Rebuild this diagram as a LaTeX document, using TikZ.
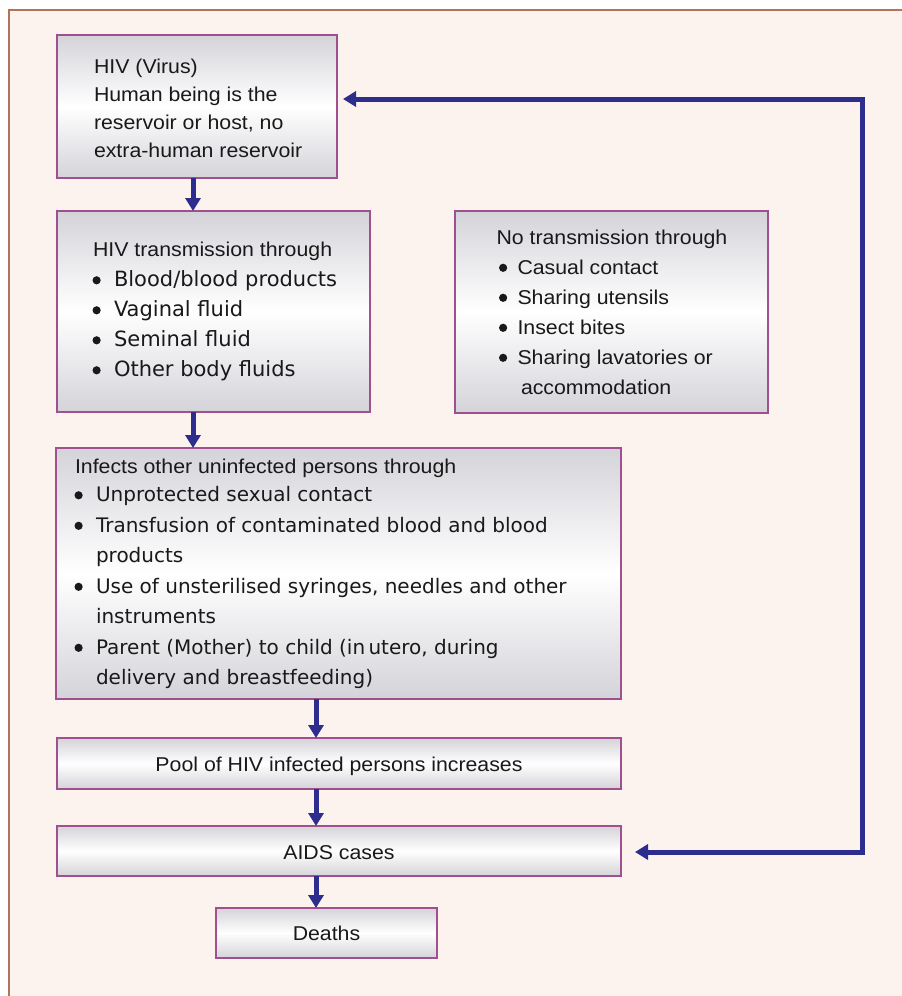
\documentclass[tikz,border=0pt]{standalone}
\usepackage{fontspec}
\setmainfont{Liberation Sans}[FakeStretch=1.065]
\newfontfamily\bulfont{DejaVu Sans}
\usetikzlibrary{arrows.meta}
\definecolor{bgc}{HTML}{FDF3EE}
\definecolor{framec}{HTML}{B3735B}
\definecolor{boxline}{HTML}{A0508E}
\definecolor{boxgray}{HTML}{D4D3D9}
\definecolor{arrblue}{HTML}{2C2D8C}
\newcommand{\blt}{\tikz[baseline=0pt]\fill[black!90] (4.2pt,6.2pt) circle[radius=4.1pt];}
\newcommand{\dbul}[1]{\makebox[#1][l]{\hspace{-0.5pt}\blt}}
\newcommand{\abul}{\hspace{3.5pt}\makebox[17.5pt][l]{\hspace{-1pt}\blt}}
\begin{document}
\begin{tikzpicture}[x=1pt,y=-1pt,
  box/.style={draw=boxline, line width=2.7pt, top color=boxgray, bottom color=boxgray,
    middle color=white, anchor=north west, inner sep=0pt, outer sep=0pt},
  txt/.style={anchor=base west, inner sep=0pt, outer sep=0pt, text=black!90},
  ctxt/.style={anchor=base, inner sep=0pt, outer sep=0pt, text=black!90,
    font=\fontsize{20}{24}\selectfont},
  arr/.style={draw=arrblue, line width=5pt,
    -{Triangle[length=13pt,width=15pt]}},
  arrboth/.style={draw=arrblue, line width=5pt,
    {Triangle[length=13pt,width=15pt]}-{Triangle[length=13pt,width=15pt]}}]
\useasboundingbox (0,0) rectangle (902,996);
\fill[bgc] (9,10) rectangle (902,996);
\draw[framec, line width=2pt] (9,996) -- (9,10) -- (902,10);

% boxes
\node[box, minimum width=280pt, minimum height=143pt] (b1) at (57,35) {};
\node[box, minimum width=313pt, minimum height=201pt] (b2) at (57,211) {};
\node[box, minimum width=313pt, minimum height=202pt] (b3) at (455,211) {};
\node[box, minimum width=565pt, minimum height=251pt] (b4) at (56,448) {};
\node[box, minimum width=564pt, minimum height=51pt] (b5) at (57,738) {};
\node[box, minimum width=564pt, minimum height=50pt] (b6) at (57,826) {};
\node[box, minimum width=221pt, minimum height=50pt] (b7) at (216,908) {};

% texts
\node[txt, font=\fontsize{20}{28}\selectfont] (t1) at (94,73.5) {%
  \begin{tabular}[t]{@{}l@{}}HIV (Virus)\\ Human being is the\\ reservoir or host, no\\ extra-human reservoir\end{tabular}};

\node[txt, font=\fontsize{20}{30}\selectfont] (t2) at (93,256.5) {%
  \begin{tabular}[t]{@{}l@{}l@{}}\multicolumn{2}{@{}l@{}}{HIV transmission through}\\
  \dbul{21pt} & \fontsize{21}{30}\bulfont Blood/blood products\\
  \dbul{21pt} & \fontsize{21}{30}\bulfont Vaginal fluid\\
  \dbul{21pt} & \fontsize{21}{30}\bulfont Seminal fluid\\
  \dbul{21pt} & \fontsize{21}{30}\bulfont Other body fluids\end{tabular}};

\node[txt, font=\fontsize{20}{30}\selectfont] (t3) at (496.5,244) {%
  \begin{tabular}[t]{@{}l@{}l@{}}\multicolumn{2}{@{}l@{}}{No transmission through}\\
  \abul & Casual contact\\
  \abul & Sharing utensils\\
  \abul & Insect bites\\
  \abul & Sharing lavatories or\\
   & \hspace{3.5pt}accommodation\end{tabular}};

\node[txt, font=\fontsize{20}{30.5}\selectfont] (t4) at (75,473) {%
  \begin{tabular}[t]{@{}l@{}l@{}}\multicolumn{2}{@{}l@{}}{Infects other uninfected persons through}\\[-2pt]
  \dbul{21pt} & \fontsize{20}{30.5}\bulfont Unprotected sexual contact\\
  \dbul{21pt} & \fontsize{20}{30.5}\bulfont Transfusion of contaminated blood and blood\\
   & \fontsize{20}{30.5}\bulfont products\\
  \dbul{21pt} & \fontsize{20}{30.5}\bulfont Use of unsterilised syringes, needles and other\\
   & \fontsize{20}{30.5}\bulfont instruments\\
  \dbul{21pt} & \fontsize{20}{30.5}\bulfont Parent (Mother) to child (in\,utero, during\\
   & \fontsize{20}{30.5}\bulfont delivery and breastfeeding)\end{tabular}};

\node[ctxt] (t5) at (339,771) {Pool of HIV infected persons increases};
\node[ctxt] (t6) at (339,859) {AIDS cases};
\node[ctxt] (t7) at (326.5,940) {Deaths};

% connectors
\draw[arr] ([xshift=136pt]b1.south west) -- ([xshift=136pt]b2.north west);
\draw[arr] ([xshift=136pt]b2.south west) -- ([xshift=137pt]b4.north west);
\draw[arr] ([xshift=260pt]b4.south west) -- ([xshift=259pt]b5.north west);
\draw[arr] ([xshift=259pt]b5.south west) -- ([xshift=259pt]b6.north west);
\draw[arr] ([xshift=259pt]b6.south west) -- ([xshift=100pt]b7.north west);
\draw[arrboth, shorten <=14pt, shorten >=6pt, line join=miter]
  ([yshift=-1pt]b6.east) -- ++(241,0) |- ([yshift=7.5pt]b1.east);
\end{tikzpicture}
\end{document}
